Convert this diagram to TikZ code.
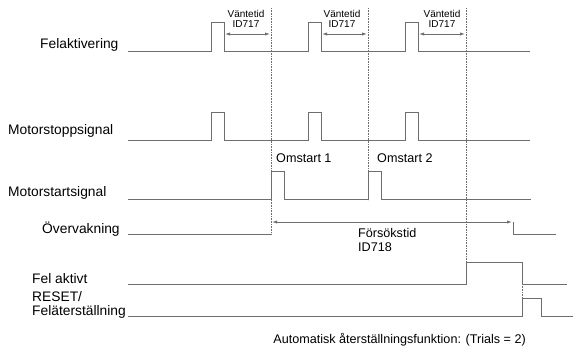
\documentclass[tikz,border=0pt]{standalone}
\usepackage{fontspec}
\setmainfont{Liberation Sans}
\usetikzlibrary{arrows.meta}

\definecolor{wavegray}{HTML}{6E6E6E}
\tikzset{
  wave/.style={draw=wavegray, line width=0.9pt},
  guide/.style={draw=wavegray, densely dotted, line width=0.6pt},
  span/.style={draw=wavegray, line width=0.8pt, {Latex[length=5pt,width=3.2pt]}-{Latex[length=5pt,width=3.2pt]}},
  siglabel/.style={anchor=west, inner sep=0pt, font=\fontsize{13.8}{15}\selectfont},
  note/.style={inner sep=0pt, font=\fontsize{12.6}{14}\selectfont},
  small/.style={inner sep=0pt, align=center, font=\fontsize{10}{10.5}\selectfont}
}

\begin{document}
\begin{tikzpicture}[x=1pt, y=-1pt]
  \useasboundingbox (0,0) rectangle (573,352);

  % signal names
  \node[siglabel] (felakt) at (40,45) {Felaktivering};
  \node[siglabel] (stopp) at (8,131) {Motorstoppsignal};
  \node[siglabel] (start) at (8,193) {Motorstartsignal};
  \node[siglabel] (overv) at (42,229) {Övervakning};
  \node[siglabel] (felaktivt) at (32,279) {Fel aktivt};
  \node[siglabel] (reset) at (32,297) {RESET/};
  \node[siglabel] (felater) at (32,312) {Feläterställning};

  % guide lines
  \coordinate (g1) at (271,8);
  \coordinate (g2) at (368,8);
  \coordinate (g3) at (466,8);
  \draw[guide] (g1) -- (271,235);
  \draw[guide] (g2) -- (368,200);
  \draw[guide] (g3) -- (466,262);
  \draw[guide] (522,284) -- (522,298);

  % Felaktivering
  \draw[wave] (128,51) -- (211,51) -- (211,22) -- (224,22) -- (224,51)
    -- (308,51) -- (308,22) -- (321,22) -- (321,51)
    -- (405,51) -- (405,22) -- (418,22) -- (418,51) -- (530,51);

  % Motorstoppsignal
  \draw[wave] (128,140) -- (211,140) -- (211,112) -- (224,112) -- (224,140)
    -- (308,140) -- (308,112) -- (321,112) -- (321,140)
    -- (405,140) -- (405,112) -- (418,112) -- (418,140) -- (530,140);

  % Motorstartsignal
  \draw[wave] (128,199) -- (271,199) -- (271,171) -- (284,171) -- (284,199)
    -- (368,199) -- (368,171) -- (381,171) -- (381,199) -- (531,199);

  % Övervakning
  \draw[wave] (128,234) -- (271,234);
  \draw[wave] (513,222) -- (513,234) -- (556,234);

  % Fel aktivt and reset
  \draw[wave] (128,284) -- (466,284) -- (466,262) -- (522,262) -- (522,284) -- (567,284);
  \draw[wave] (128,316) -- (522,316) -- (522,298) -- (541,298) -- (541,316) -- (573,316);

  % wait times
  \coordinate (w1a) at (225,34);
  \coordinate (w1b) at (270,34);
  \coordinate (w2a) at (322,34);
  \coordinate (w2b) at (367,34);
  \coordinate (w3a) at (419,34);
  \coordinate (w3b) at (465,34);
  \draw[span] (w1a) -- (w1b);
  \draw[span] (w2a) -- (w2b);
  \draw[span] (w3a) -- (w3b);
  \node[small] (vt1) at (246,19) {Väntetid\\ID717};
  \node[small] (vt2) at (342,19) {Väntetid\\ID717};
  \node[small] (vt3) at (442,19) {Väntetid\\ID717};

  % restarts and trial time
  \node[note, anchor=west] (om1) at (276,158) {Omstart 1};
  \node[note, anchor=west] (om2) at (377,158) {Omstart 2};
  \coordinate (ta) at (272,222);
  \coordinate (tb) at (512,222);
  \draw[span] (ta) -- (tb);
  \node[note, anchor=west, align=left] (fors) at (358,240) {Försökstid\\ID718};

  \node[note, anchor=east] (caption) at (526,340)
    {Automatisk återställningsfunktion: (Trials = 2)};
\end{tikzpicture}
\end{document}
